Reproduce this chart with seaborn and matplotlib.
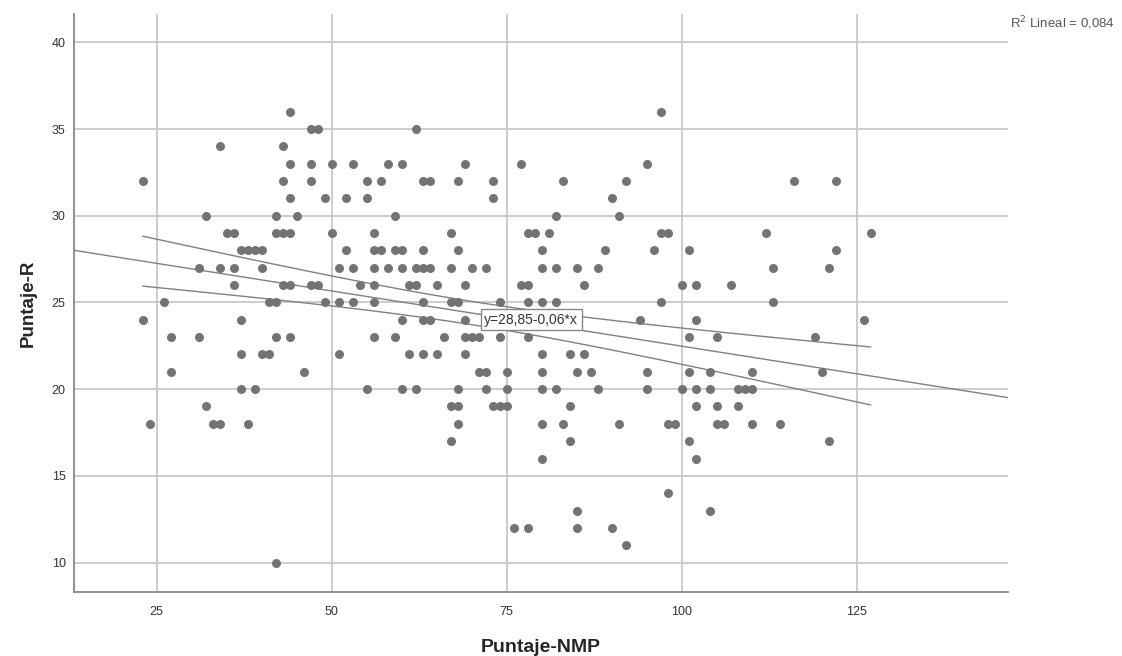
import numpy as np
import pandas as pd
import matplotlib
matplotlib.use("Agg")
import matplotlib.pyplot as plt
import seaborn as sns

# Puntaje-NMP values, grouped by row (one row per Puntaje-R value)
r_36 = [44, 97]
r_35 = [47, 48, 62]
r_34 = [34, 43]
r_33 = [44, 47, 50, 53, 58, 60, 69, 77, 95]
r_32 = [23, 43, 47, 55, 57, 63, 64, 68, 73, 83, 92, 116, 122]
r_31 = [44, 49, 52, 55, 73, 90]
r_30 = [32, 42, 45, 59, 82, 91]
r_29 = [35, 36, 42, 43, 44, 50, 56, 67, 78, 79, 81, 97, 98, 112, 127]
r_28 = [37, 38, 39, 40, 52, 56, 57, 59, 60, 63, 68, 80, 89, 96, 101, 122]
r_27 = [31, 34, 36, 40, 51, 53, 56, 58, 60, 62, 63, 64, 67, 70, 72, 80, 82,
        85, 88, 113, 121]
r_26 = [36, 43, 44, 47, 48, 54, 56, 61, 62, 65, 69, 77, 78, 86, 100, 102, 107]
r_25 = [26, 41, 42, 49, 51, 53, 56, 63, 67, 68, 74, 78, 80, 82, 97, 113]
r_24 = [23, 37, 60, 63, 64, 69, 94, 102, 126]
r_23 = [27, 31, 42, 44, 56, 59, 66, 69, 70, 71, 74, 78, 101, 105, 119]
r_22 = [37, 40, 41, 51, 61, 63, 65, 69, 80, 84, 86]
r_21 = [27, 46, 71, 72, 75, 80, 85, 87, 95, 101, 104, 110, 120]
r_20 = [37, 39, 55, 60, 62, 68, 72, 75, 80, 82, 88, 95, 100, 102, 104, 108,
        109, 110]
r_19 = [32, 67, 68, 73, 74, 75, 84, 102, 105, 108]
r_18 = [24, 33, 34, 38, 68, 80, 83, 91, 98, 99, 105, 106, 110, 114]
r_17 = [67, 84, 101, 121]
r_16 = [80, 102]
r_14 = [98]
r_13 = [85, 104]
r_12 = [76, 78, 85, 90]
r_11 = [92]
r_10 = [42]

filas = {36: r_36, 35: r_35, 34: r_34, 33: r_33, 32: r_32, 31: r_31,
         30: r_30, 29: r_29, 28: r_28, 27: r_27, 26: r_26, 25: r_25,
         24: r_24, 23: r_23, 22: r_22, 21: r_21, 20: r_20, 19: r_19,
         18: r_18, 17: r_17, 16: r_16, 14: r_14, 13: r_13, 12: r_12,
         11: r_11, 10: r_10}

# fit reported by SPSS (line)
intercepto = 28.85
pendiente = -0.0637

df = pd.DataFrame(
    [(x, r) for r, xs in filas.items() for x in xs],
    columns=["Puntaje-NMP", "Puntaje-R"]
)

sns.set_style("white")
plt.rcParams["font.family"] = ["Liberation Sans", "DejaVu Sans"]

fig = plt.figure(figsize=(11.22, 6.56), dpi=100)
ax = fig.add_axes([74 / 1122, 1 - 592 / 656, (1008 - 74) / 1122, (592 - 14) / 656])

ax.set_xlim(13.2, 146.6)
ax.set_ylim(8.3, 41.64)
ax.set_xticks([25, 50, 75, 100, 125])
ax.set_yticks([10, 15, 20, 25, 30, 35, 40])
ax.grid(True, color="#c8c8c8", linewidth=1.3)
ax.set_axisbelow(True)

# fit line + 95% confidence interval of the mean
x = df["Puntaje-NMP"].to_numpy(float)
y = df["Puntaje-R"].to_numpy(float)
n = len(x)
resid = y - (intercepto + pendiente * x)
s = np.sqrt((resid ** 2).sum() / (n - 2))
sxx = ((x - x.mean()) ** 2).sum()
t = 1.97

xs_full = np.linspace(13.2, 146.6, 50)
ax.plot(xs_full, intercepto + pendiente * xs_full, color="#808080",
        linewidth=1, zorder=2)

xs_ci = np.linspace(x.min(), x.max(), 100)
se = s * np.sqrt(1 / n + (xs_ci - x.mean()) ** 2 / sxx)
ax.plot(xs_ci, intercepto + pendiente * xs_ci + t * se, color="#808080",
        linewidth=1, zorder=2)
ax.plot(xs_ci, intercepto + pendiente * xs_ci - t * se, color="#808080",
        linewidth=1, zorder=2)

sns.scatterplot(
    data=df,
    x="Puntaje-NMP",
    y="Puntaje-R",
    color="#737373",
    s=42,
    linewidth=0,
    ax=ax,
    zorder=3
)

ax.text(
    71.8, 24.0, "y=28,85-0,06*x",
    fontsize=10, color="#333333", va="center", ha="left", zorder=4,
    bbox=dict(boxstyle="square,pad=0.25", fc="white", ec="#888888", lw=1)
)

for side in ["top", "right"]:
    ax.spines[side].set_visible(False)
for side in ["left", "bottom"]:
    ax.spines[side].set_color("#888888")
    ax.spines[side].set_linewidth(1.3)

ax.tick_params(length=0, labelsize=9, labelcolor="#333333")
ax.tick_params(axis="x", pad=10)
ax.tick_params(axis="y", pad=6)

ax.set_xlabel("Puntaje-NMP", fontsize=14, fontweight="bold", labelpad=15)
ax.set_ylabel("Puntaje-R", fontsize=13.5, fontweight="bold", labelpad=11)

fig.text(1010 / 1122, 1 - 23 / 656, "R$^2$ Lineal = 0,084", fontsize=9.5,
         color="#555555", va="center", ha="left")

plt.savefig("out.png", dpi=100)
plt.close()
